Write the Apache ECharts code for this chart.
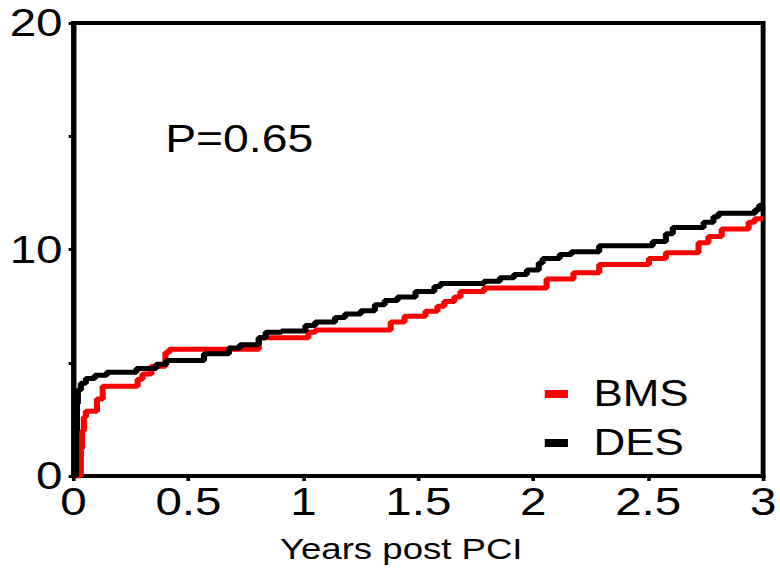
<!DOCTYPE html>
<html><head><meta charset="utf-8">
<script src="https://cdn.jsdelivr.net/npm/echarts@6/dist/echarts.min.js"></script>
<style>
html,body{margin:0;padding:0;background:#fff;overflow:hidden}
#wrap{width:780px;height:569px;overflow:hidden}
/* the figure is drawn on a 640px canvas and widened to 780px */
#chart{width:640px;height:569px;transform:scaleX(1.21875);transform-origin:0 0}
</style></head><body>
<div id="wrap"><div id="chart"></div></div>
<script>
// x axis: years post PCI
const xTickLabels = ['0', '0.5', '1', '1.5', '2', '2.5', '3'];
// y axis: only every other tick is labelled
const yTickLabels = { 0: '0', 10: '10', 20: '20' };

// cumulative event curves (step functions), time in years
const bmsTimes  = [0, 0.028, 0.032, 0.037, 0.045, 0.054, 0.102, 0.127, 0.279, 0.300, 0.339, 0.400, 0.417, 0.806, 1.022, 1.052, 1.380, 1.440, 1.531, 1.583, 1.613, 1.657, 1.683, 1.786, 2.058, 2.175, 2.287, 2.503, 2.577, 2.719, 2.762, 2.820, 2.937, 2.963, 3.0];
const bmsValues = [0, 0, 1.2, 2.0, 2.6, 2.86, 3.4, 3.96, 4.27, 4.5, 4.85, 5.45, 5.6, 6.1, 6.35, 6.45, 6.8, 7.05, 7.27, 7.5, 7.7, 7.9, 8.15, 8.3, 8.7, 8.97, 9.34, 9.6, 9.86, 10.3, 10.57, 10.9, 11.2, 11.36, 11.36];

const desTimes  = [0, 0.006, 0.011, 0.015, 0.019, 0.032, 0.054, 0.093, 0.145, 0.274, 0.360, 0.404, 0.568, 0.676, 0.724, 0.806, 0.836, 0.905, 1.009, 1.052, 1.138, 1.181, 1.250, 1.311, 1.354, 1.410, 1.488, 1.570, 1.596, 1.786, 1.855, 1.916, 1.972, 2.024, 2.041, 2.115, 2.166, 2.287, 2.520, 2.577, 2.607, 2.741, 2.784, 2.806, 2.965, 2.983, 3.0];
const desValues = [0, 0, 2.0, 3.2, 3.8, 4.1, 4.3, 4.45, 4.58, 4.75, 4.93, 5.1, 5.4, 5.65, 5.8, 6.1, 6.35, 6.4, 6.65, 6.8, 7.0, 7.15, 7.3, 7.56, 7.75, 7.9, 8.15, 8.37, 8.5, 8.6, 8.75, 8.9, 9.1, 9.4, 9.6, 9.78, 9.9, 10.17, 10.35, 10.7, 10.97, 11.2, 11.45, 11.6, 11.76, 11.95, 11.95];

const pValueText = 'P=0.65';
const font = "'Liberation Sans', Arial, sans-serif";

const pairs = (xs, ys) => xs.map((x, i) => [x, ys[i]]);

const chart = echarts.init(document.getElementById('chart'), null, { renderer: 'svg' });
chart.setOption({
  animation: false,
  backgroundColor: '#fff',
  grid: {
    left: 60.3, right: 9.8, top: 23, bottom: 92,
    show: true, borderColor: '#000', borderWidth: 4
  },
  xAxis: {
    type: 'value', min: 0, max: 3, interval: 0.5,
    axisLine: { show: true, lineStyle: { color: '#000', width: 4 } },
    axisTick: { show: true, inside: false, length: 5, lineStyle: { color: '#000', width: 3 } },
    splitLine: { show: false },
    axisLabel: {
      color: '#000', fontFamily: font, fontSize: 39, margin: 6,
      formatter: (v, i) => xTickLabels[i]
    },
    name: 'Years post PCI', nameLocation: 'middle', nameGap: 58,
    nameTextStyle: { color: '#000', fontFamily: font, fontSize: 30, padding: [0, 28, 0, 0] }
  },
  yAxis: {
    type: 'value', min: 0, max: 20, interval: 5,
    axisLine: { show: true, lineStyle: { color: '#000', width: 3.5 } },
    axisTick: { show: true, inside: false, length: 4, lineStyle: { color: '#000', width: 3 } },
    splitLine: { show: false },
    axisLabel: {
      color: '#000', fontFamily: font, fontSize: 39, margin: 9,
      formatter: v => (yTickLabels[v] !== undefined ? yTickLabels[v] : '')
    }
  },
  legend: {
    orient: 'vertical', left: 447, top: 376, padding: 0,
    itemWidth: 19, itemHeight: 8, itemGap: 13, icon: 'rect',
    textStyle: { color: '#000', fontFamily: font, fontSize: 36, lineHeight: 36, padding: [0, 0, 0, 16] },
    data: ['BMS', 'DES']
  },
  graphic: [{
    type: 'text', left: 135.5, top: 120,
    style: { text: pValueText, font: '38px ' + font, fill: '#000' }
  }],
  series: [
    {
      name: 'BMS', type: 'line', step: 'end', showSymbol: false,
      lineStyle: { color: '#ff0000', width: 5 }, itemStyle: { color: '#ff0000' },
      data: pairs(bmsTimes, bmsValues)
    },
    {
      name: 'DES', type: 'line', step: 'end', showSymbol: false,
      lineStyle: { color: '#000', width: 5 }, itemStyle: { color: '#000' },
      data: pairs(desTimes, desValues)
    }
  ]
});
</script>
</body></html>
